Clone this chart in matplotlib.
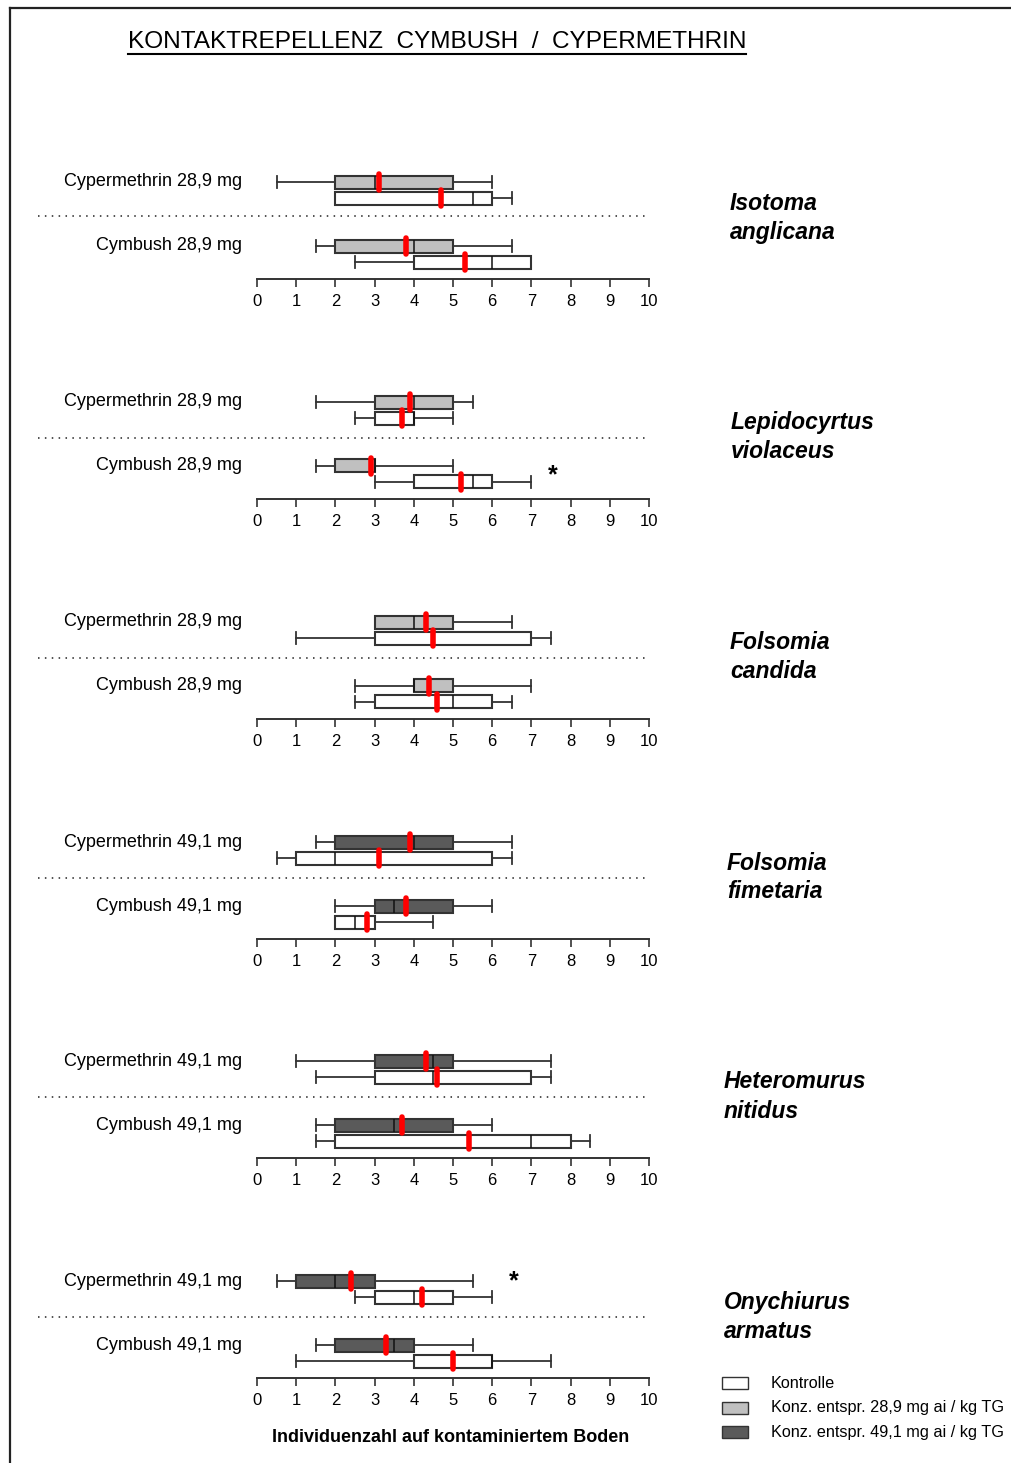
import matplotlib
matplotlib.use("Agg")
import matplotlib.pyplot as plt
from matplotlib.lines import Line2D
from matplotlib.patches import Rectangle

plt.rcParams['font.family'] = ['Liberation Sans', 'DejaVu Sans']

W, H = 1012, 1463

# --- Daten ---
title = "KONTAKTREPELLENZ  CYMBUSH  /  CYPERMETHRIN"
species = ["Isotoma\nanglicana", "Lepidocyrtus\nviolaceus", "Folsomia\ncandida",
           "Folsomia\nfimetaria", "Heteromurus\nnitidus", "Onychiurus\narmatus"]
doses = ["28,9", "28,9", "28,9", "49,1", "49,1", "49,1"]
substances = ["Cypermethrin", "Cymbush"]

# je Panel: [Cyp behandelt, Cyp Kontrolle, Cym behandelt, Cym Kontrolle]
# (whislo, q1, med, q3, whishi, mean)
stats = [
    [(0.5, 2, 3, 5, 6, 3.1), (2, 2, 5.5, 6, 6.5, 4.7),
     (1.5, 2, 4, 5, 6.5, 3.8), (2.5, 4, 6, 7, 7, 5.3)],
    [(1.5, 3, 4, 5, 5.5, 3.9), (2.5, 3, 4, 4, 5, 3.7),
     (1.5, 2, 3, 3, 5, 2.9), (3, 4, 5.5, 6, 7, 5.2)],
    [(3, 3, 4, 5, 6.5, 4.3), (1, 3, 4.5, 7, 7.5, 4.5),
     (2.5, 4, 4, 5, 7, 4.4), (2.5, 3, 5, 6, 6.5, 4.6)],
    [(1.5, 2, 4, 5, 6.5, 3.9), (0.5, 1, 2, 6, 6.5, 3.1),
     (2, 3, 3.5, 5, 6, 3.8), (2, 2, 2.5, 3, 4.5, 2.8)],
    [(1, 3, 4.5, 5, 7.5, 4.3), (1.5, 3, 4.5, 7, 7.5, 4.6),
     (1.5, 2, 3.5, 5, 6, 3.7), (1.5, 2, 7, 8, 8.5, 5.4)],
    [(0.5, 1, 2, 3, 5.5, 2.4), (2.5, 3, 4, 5, 6, 4.2),
     (1.5, 2, 3.5, 4, 5.5, 3.3), (1, 4, 6, 6, 7.5, 5.0)],
]
# signifikante Unterschiede: (panel, x, welche Gruppe)
stars = [(1, 7.55, 2), (5, 6.55, 0)]

colors = {"Kontrolle": "#ffffff", "28,9": "#c0c0c0", "49,1": "#5a5a5a"}
legend_labels = ["Kontrolle", "Konz. entspr. 28,9 mg ai / kg TG",
                 "Konz. entspr. 49,1 mg ai / kg TG"]

fig = plt.figure(figsize=(W / 100, H / 100), dpi=100)

# Rahmen
fig.add_artist(Line2D([10 / W, 10 / W], [0, 1 - 8 / H], color="#222222", lw=1.6))
fig.add_artist(Line2D([10 / W, 1], [1 - 8 / H, 1 - 8 / H], color="#222222", lw=1.6))

# Titel (unterstrichen)
t = fig.text(128 / W, 1 - 42 / H, title, fontsize=17.6, va="center", ha="left",
             family=["Liberation Sans Narrow", "Liberation Sans"])
fig.canvas.draw()
bb = t.get_window_extent()
fig.add_artist(Line2D([bb.x0 / W, bb.x1 / W], [1 - 54 / H] * 2, color="black", lw=1.5))

axis_px = [279, 499, 719, 939, 1158, 1378]
ypos = [97, 81, 33, 17]
px_per_unit = 39.2
x_left = -(257 - 38) / px_per_unit

for i, ax_y in enumerate(axis_px):
    ax = fig.add_axes([38 / W, 1 - ax_y / H, (649 - 38) / W, 112 / H])
    ax.set_xlim(x_left, 10)
    ax.set_ylim(0, 112)
    treat_col = colors[doses[i]]
    bxs = []
    for s in stats[i]:
        bxs.append(dict(whislo=s[0], q1=s[1], med=s[2], q3=s[3], whishi=s[4], fliers=[]))
    art = ax.bxp(bxs, positions=ypos, widths=13, orientation="horizontal",
                 patch_artist=True, manage_ticks=False, capwidths=12,
                 boxprops=dict(edgecolor="#333333", lw=1.5),
                 medianprops=dict(color="#111111", lw=1.1),
                 whiskerprops=dict(color="#333333", lw=1.3),
                 capprops=dict(color="#333333", lw=1.3))
    for j, b in enumerate(art["boxes"]):
        b.set_facecolor(treat_col if j % 2 == 0 else colors["Kontrolle"])
    for j, s in enumerate(stats[i]):
        ax.plot([s[5], s[5]], [ypos[j] - 8, ypos[j] + 8], color="#ff0000", lw=4,
                solid_capstyle="round", zorder=5)
    ax.plot([x_left, 10], [63 if i == 0 else 61] * 2, color="#222222", lw=1.1,
            ls=(0, (1, 3.5)))
    for k, sub in enumerate(substances):
        ax.text(-0.38, ypos[2 * k], f"{sub} {doses[i]} mg", ha="right", va="center",
                fontsize=13)
    for p, sx, g in stars:
        if p == i:
            ax.text(sx, ypos[g] if g == 0 else 24, "*", fontsize=18, fontweight="bold",
                    ha="center", va="center")
    for sp in ["top", "right", "left"]:
        ax.spines[sp].set_visible(False)
    ax.spines["bottom"].set_bounds(0, 10)
    ax.spines["bottom"].set_color("#333333")
    ax.spines["bottom"].set_linewidth(1.4)
    ax.set_yticks([])
    ax.set_xticks(range(11))
    ax.tick_params(axis="x", direction="out", length=6, width=1.2, pad=5,
                   labelsize=12, color="#333333")
    # Artname
    lines = species[i].split("\n")
    sx_px = [730, 731, 730, 727, 724, 724][i]
    for li, ln in enumerate(lines):
        fig.text(sx_px / W, 1 - (ax_y - 76 + 29 * li) / H, ln, fontsize=16.5,
                 fontweight="bold", fontstyle="italic", va="center", ha="left")

fig.text(451 / W, 1 - 1438 / H, "Individuenzahl auf kontaminiertem Boden",
         fontsize=13, fontweight="bold", ha="center", va="center")

# Legende
leg_cols = [colors["Kontrolle"], colors["28,9"], colors["49,1"]]
for k, (lab, c) in enumerate(zip(legend_labels, leg_cols)):
    yc = 1383 + 24.5 * k
    fig.add_artist(Rectangle((722 / W, 1 - (yc + 6) / H), 26 / W, 12 / H,
                             facecolor=c, edgecolor="#333333", lw=1.0))
    fig.text(771 / W, 1 - yc / H, lab, fontsize=11.7, va="center", ha="left")

fig.savefig("out.png", dpi=100)
